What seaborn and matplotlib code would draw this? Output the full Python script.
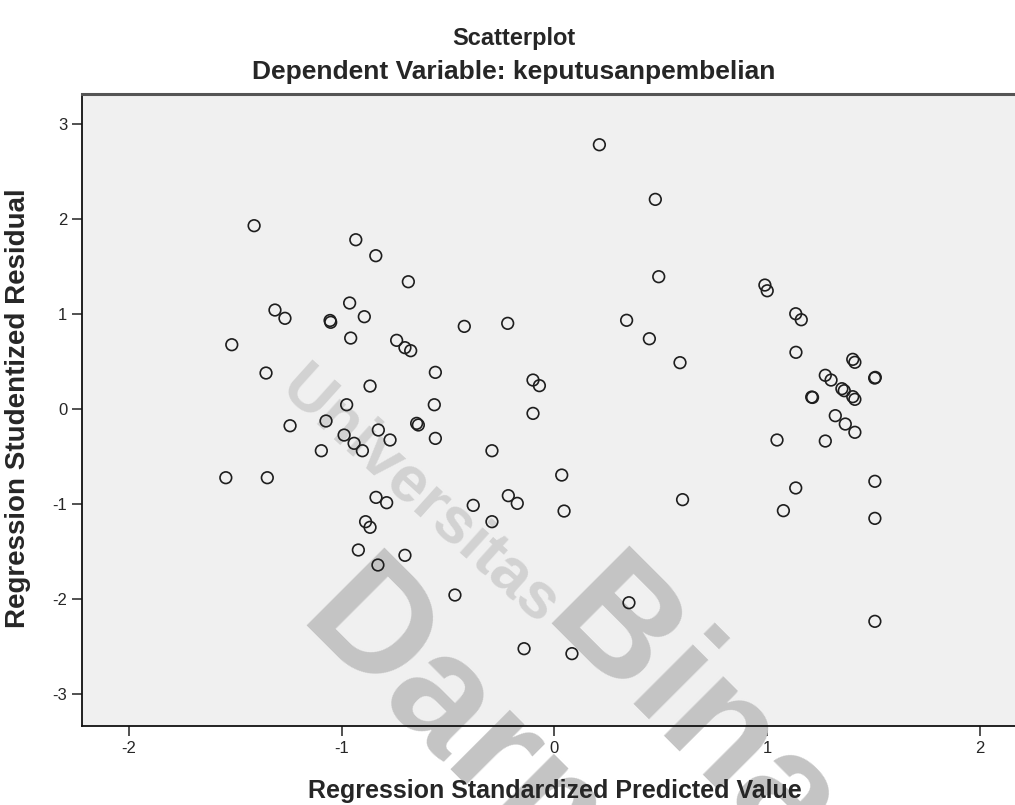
import matplotlib
matplotlib.use("Agg")
import matplotlib.pyplot as plt
import pandas as pd
import seaborn as sns

# values
predicted = [-1.412, -0.934, -0.840, -0.687, -0.963, -1.314, -1.267, -1.055, -1.052, -0.894,
             -0.424, -0.958, -1.517, -0.742, -0.703, -0.676, -1.356, -0.560, -0.867, -0.977,
             -0.565, -1.243, -1.074, -0.648, -0.640, -0.989, -0.942, -0.903, -0.828, -0.773,
             -0.560, -1.096, -0.294, -1.545, -1.350, -0.839, -0.789, -0.382, -0.294, -0.888,
             -0.867, -0.922, -0.703, -0.830, -0.468, 0.211, 0.474, 0.490, 0.339, 0.446,
             0.590, -0.220, -0.101, -0.071, -0.101, 0.034, -0.217, -0.175, 0.045, 0.602,
             0.350, -0.143, 0.082, 0.989, 1.000, 1.134, 1.160, 1.135, 1.402, 1.412,
             1.273, 1.300, 1.505, 1.508, 1.209, 1.213, 1.351, 1.362, 1.402, 1.412,
             1.320, 1.367, 1.412, 1.046, 1.273, 1.506, 1.134, 1.076, 1.506, 1.506]
residual = [1.932, 1.784, 1.616, 1.342, 1.118, 1.044, 0.957, 0.934, 0.915, 0.974,
            0.872, 0.749, 0.679, 0.725, 0.648, 0.616, 0.381, 0.388, 0.244, 0.047,
            0.047, -0.174, -0.124, -0.149, -0.166, -0.272, -0.359, -0.437, -0.219, -0.324,
            -0.307, -0.437, -0.437, -0.721, -0.721, -0.928, -0.984, -1.012, -1.184, -1.184,
            -1.243, -1.482, -1.538, -1.640, -1.956, 2.784, 2.209, 1.395, 0.936, 0.742,
            0.490, 0.904, 0.307, 0.248, -0.044, -0.693, -0.910, -0.991, -1.072, -0.952,
            -2.037, -2.521, -2.573, 1.307, 1.247, 1.005, 0.942, 0.599, 0.525, 0.494,
            0.357, 0.307, 0.328, 0.335, 0.128, 0.124, 0.216, 0.195, 0.132, 0.104,
            -0.068, -0.156, -0.243, -0.324, -0.335, -0.759, -0.829, -1.068, -1.149, -2.233]
xticks = [-2, -1, 0, 1, 2]
yticks = [-3, -2, -1, 0, 1, 2, 3]

df = pd.DataFrame({"pred": predicted, "resid": residual})

sns.set_style("white")
plt.rcParams['font.family'] = ['Liberation Sans', 'DejaVu Sans']
plt.rcParams['axes.unicode_minus'] = False

fig = plt.figure(figsize=(10.15, 8.05), dpi=100)
# axes runs past the right edge of the figure, like the cropped original
ax = fig.add_axes([0.0808, 0.0981, 0.9310, 0.7851])
ax.set_facecolor('#f0f0f0')

sns.scatterplot(data=df, x="pred", y="resid", ax=ax, s=70, marker='o',
                facecolor='none', edgecolor='#1e1e1e', linewidth=1.2, zorder=3)

ax.set_xlim(-2.221, 2.221)
ax.set_ylim(-3.335, 3.318)
ax.set_xticks(xticks)
ax.set_yticks(yticks)
ax.set_xticklabels([str(t) for t in xticks])
ax.set_yticklabels([str(t) for t in yticks])
ax.tick_params(direction='out', length=7.5, width=1.1, color='#222222',
               labelsize=12, pad=3, left=True, bottom=True)
ax.set_xlabel('')
ax.set_ylabel('')

for side in ['left', 'bottom']:
    ax.spines[side].set_color('#111111')
    ax.spines[side].set_linewidth(1.3)
ax.spines['top'].set_color('#555555')
ax.spines['top'].set_linewidth(2.2)
ax.spines['right'].set_visible(False)

# titles and axis titles
fig.text(0.506, 1 - 38 / 805, 'Scatterplot', ha='center', va='center',
         fontsize=17, fontweight='bold')
fig.text(0.506, 1 - 72 / 805, 'Dependent Variable: keputusanpembelian', ha='center',
         va='center', fontsize=19, fontweight='bold')
fig.text(554.5 / 1015, 1 - 791 / 805, 'Regression Standardized Predicted Value',
         ha='center', va='center', fontsize=18, fontweight='bold')
fig.text(18 / 1015, 1 - 408 / 805, 'Regression Studentized Residual', ha='center',
         va='center', rotation=90, fontsize=20, fontweight='bold')

# repository watermark, drawn under the points
wm = dict(transform=fig.transFigure, rotation_mode='anchor',
          ha='left', va='baseline', fontweight='bold', zorder=1.5, clip_on=False)
ax.text(277 / 1015, 1 - 392 / 805, 'Universitas', fontsize=47, rotation=-42,
        color='#d2d2d2', **wm)
ax.text(540 / 1015, 1 - 623 / 805, 'Bina', fontsize=115, rotation=-45,
        color='#c4c4c4', **wm)
ax.text(295 / 1015, 1 - 625 / 805, 'Darma', fontsize=115, rotation=-45,
        color='#c4c4c4', **wm)

fig.savefig('out.png', dpi=100)
